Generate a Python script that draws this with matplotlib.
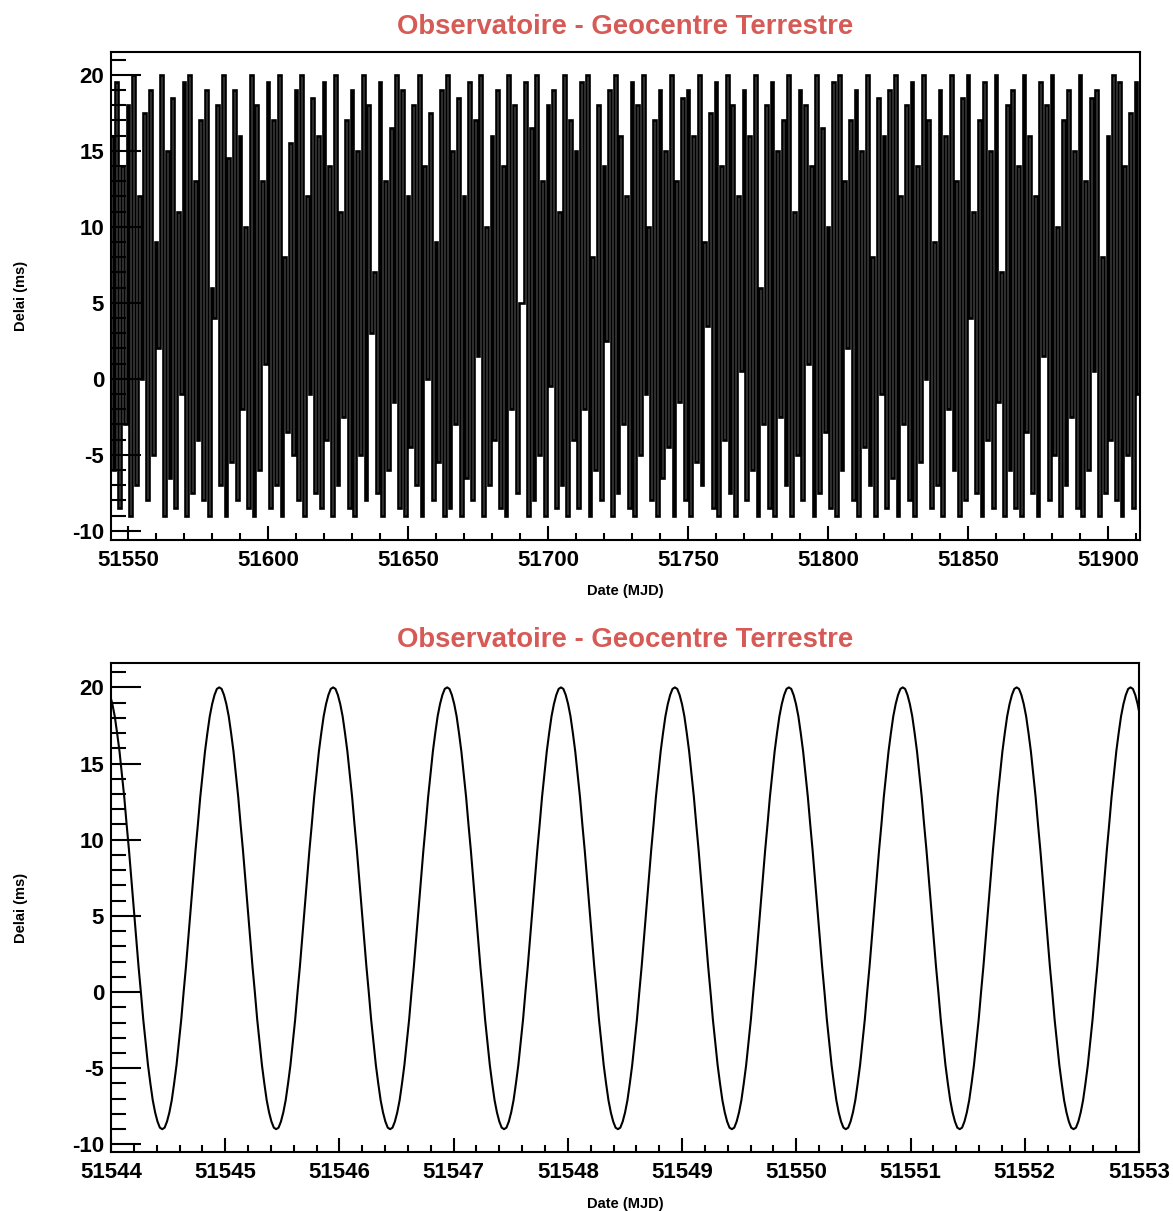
import numpy as np
import matplotlib
matplotlib.use("Agg")
import matplotlib.pyplot as plt
from matplotlib.ticker import MultipleLocator, FormatStrFormatter

plt.rcParams['font.family'] = ['Liberation Sans', 'DejaVu Sans']
plt.rcParams['font.weight'] = 'bold'
plt.rcParams['axes.unicode_minus'] = False

TITLE = "Observatoire - Geocentre Terrestre"
TITLE_COLOR = "#d65a55"

# top panel: daily samples, alternating high / low (MJD 51544, 51545, ...)
start_mjd = 51544
high_vals = [
    16, 19.5, 14, 18, 20, 12, 17.5, 19, 9, 20, 15, 18.5, 11, 19.5, 20, 13, 17, 19, 6, 18,
    20, 14.5, 19, 16, 10, 20, 18, 13, 19.5, 17, 20, 8, 15.5, 19, 20, 12, 18.5, 16, 19.5, 14,
    20, 11, 17, 19, 15, 20, 18, 7, 19.5, 13, 16.5, 20, 19, 12, 18, 20, 14, 17.5, 9, 19,
    20, 15, 18.5, 12, 19.5, 17, 20, 10, 16, 19, 14, 20, 18, 5, 19.5, 16.5, 20, 13, 18, 19,
    11, 20, 17, 15, 19.5, 20, 8, 18, 14, 19, 20, 16, 12, 19.5, 18, 20, 10, 17, 19, 15,
    20, 13, 18.5, 19, 16, 20, 9, 17.5, 19.5, 14, 20, 18, 12, 19, 16, 20, 6, 18, 19.5, 15,
    17, 20, 11, 19, 18, 14, 20, 16.5, 10, 19.5, 20, 13, 17, 19, 15, 20, 8, 18.5, 16, 19,
    20, 12, 18, 19.5, 14, 20, 17, 9, 19, 16, 20, 13, 18.5, 20, 11, 17, 19.5, 15, 20, 7,
    18, 19, 14, 20, 16, 12, 19.5, 18, 20, 10, 17, 19, 15, 20, 13, 18.5, 19, 8, 16, 20,
    19.5, 14, 17.5, 19.5,
]
low_vals = [
    -6, -8.5, -3, -9, -7, 0, -8, -5, 2, -9, -6.5, -8.5, -1, -9, -7.5, -4, -8, -9, 4, -7,
    -9, -5.5, -8, -2, -8.5, -9, -6, 1, -8.5, -7, -9, -3.5, -5, -8, -9, -1, -7.5, -8.5, -4, -9,
    -7, -2.5, -8.5, -9, -5, -8, 3, -7.5, -9, -6, -1.5, -8.5, -9, -4.5, -7, -9, 0, -8, -5.5, -9,
    -8.5, -3, -9, -6.5, -8, 1.5, -9, -7, -4, -8.5, -9, -2, -7.5, 5, -9, -8, -5, -9, -0.5, -8.5,
    -7, -9, -4, -8.5, -2, -9, -6, -8, 2.5, -9, -7.5, -3, -8.5, -9, -5, -1, -8, -9, -6.5, -4.5,
    -9, -1.5, -8, -9, -5.5, -7, 3.5, -8.5, -9, -4, -7.5, -9, 0.5, -8, -6, -9, -3, -8.5, -9, -2.5,
    -7, -9, -5, -8, 1, -9, -7.5, -3.5, -8.5, -9, -6, 2, -8, -9, -4.5, -7, -9, -1, -8.5, -6.5,
    -9, -3, -8, -9, -5.5, 0, -8.5, -7, -9, -2, -6, -9, -8, 4, -7.5, -9, -4, -8.5, -1.5, -9,
    -6, -8.5, -9, -3.5, -7.5, -9, 1.5, -8, -5, -9, -7, -2.5, -8.5, -9, -6, 0.5, -9, -7.5, -4, -8,
    -9, -5, -8.5, -1,
]

half_cycle = [20.0, 19.9, 19.5, 18.9, 18.1, 17.0, 15.8, 14.3, 12.8, 11.0, 9.3, 7.4, 5.5,
              3.6, 1.7, 0.0, -1.8, -3.3, -4.8, -6.0, -7.1, -7.9, -8.5, -8.9, -9.0]
peak_dates = [51543.950, 51544.948, 51545.945, 51546.943, 51547.940, 51548.937,
              51549.935, 51550.932, 51551.929, 51552.926, 51553.924]

top_t = []
top_v = []
for i in range(len(high_vals)):
    top_t += [start_mjd + 2 * i, start_mjd + 2 * i + 1]
    top_v += [high_vals[i], low_vals[i]]

cycle = half_cycle + half_cycle[-2::-1]
bot_t = []
bot_v = []
for p0, p1 in zip(peak_dates[:-1], peak_dates[1:]):
    n = len(cycle)
    bot_t += list(np.linspace(p0, p1, n))[:-1]
    bot_v += cycle[:-1]
bot_t.append(peak_dates[-1])
bot_v.append(cycle[-1])

fig = plt.figure(figsize=(11.73, 12.11), dpi=100)
ax1 = fig.add_axes([0.0946, 0.5541, 0.8772, 0.4030])
ax2 = fig.add_axes([0.0946, 0.0487, 0.8764, 0.4038])

ax1.plot(top_t, top_v, color='black', lw=1.9, drawstyle='steps-mid',
         solid_joinstyle='miter')
ax2.plot(bot_t, bot_v, color='black', lw=1.5)

ax1.set_xlim(51543.95, 51911.4)
ax1.set_ylim(-10.6, 21.5)
ax2.set_xlim(51544, 51553)
ax2.set_ylim(-10.5, 21.6)

for ax, xmaj, xmin in [(ax1, 50, 10), (ax2, 1, 0.2)]:
    ax.xaxis.set_major_locator(MultipleLocator(xmaj))
    ax.xaxis.set_minor_locator(MultipleLocator(xmin))
    ax.yaxis.set_major_locator(MultipleLocator(5))
    ax.yaxis.set_minor_locator(MultipleLocator(1))
    ax.xaxis.set_major_formatter(FormatStrFormatter('%d'))
    ax.yaxis.set_major_formatter(FormatStrFormatter('%d'))
    ax.tick_params(axis='x', which='major', direction='in', length=10, width=1.5,
                   labelsize=16, pad=7, top=False)
    ax.tick_params(axis='x', which='minor', direction='in', length=5, width=1.5, top=False)
    ax.tick_params(axis='y', which='major', direction='in', length=21.6, width=1.5,
                   labelsize=16, pad=5, right=False)
    ax.tick_params(axis='y', which='minor', direction='in', length=10.8, width=1.5, right=False)
    for s in ax.spines.values():
        s.set_linewidth(1.5)
    for lab in ax.get_xticklabels() + ax.get_yticklabels():
        lab.set_fontweight('bold')

fig.text(0.533, 0.9775, TITLE, ha='center', va='center', fontsize=19.8,
         color=TITLE_COLOR, fontweight='bold')
fig.text(0.533, 0.4715, TITLE, ha='center', va='center', fontsize=19.8,
         color=TITLE_COLOR, fontweight='bold')
fig.text(0.533, 0.5120, "Date (MJD)", ha='center', va='center', fontsize=10.5, fontweight='bold')
fig.text(0.533, 0.0058, "Date (MJD)", ha='center', va='center', fontsize=10.5, fontweight='bold')
fig.text(0.018, 0.7556, "Delai (ms)", ha='center', va='center', rotation=90,
         fontsize=10.5, fontweight='bold')
fig.text(0.018, 0.2506, "Delai (ms)", ha='center', va='center', rotation=90,
         fontsize=10.5, fontweight='bold')

fig.savefig("out.png", dpi=100)
